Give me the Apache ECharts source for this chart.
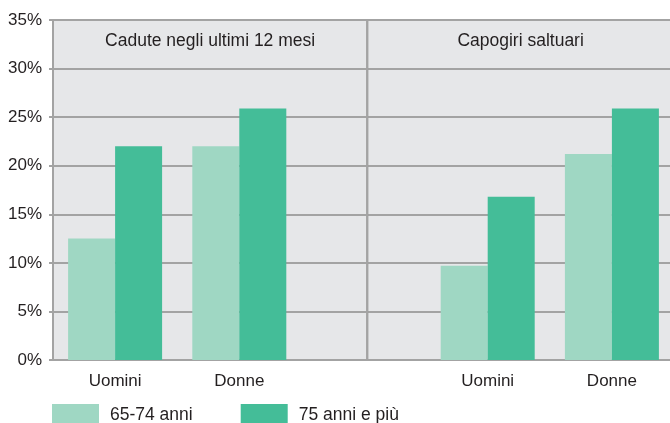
<!DOCTYPE html>
<html>
<head>
<meta charset="utf-8">
<script src="https://cdn.jsdelivr.net/npm/echarts@6/dist/echarts.min.js"></script>
<style>
  html, body { margin: 0; padding: 0; background: #fff; overflow: hidden; }
  /* plot runs slightly past the right edge, as in the original */
  #chart { width: 680px; height: 423px; }
</style>
</head>
<body>
<div id="chart"></div>
<script>
// categories (the empty one is the gap between the two panels)
const categories = ['Uomini', 'Donne', '', 'Uomini', 'Donne']
const seriesNames = ['65-74 anni', '75 anni e più']
const values6574 = [12.5, 22.0, null, 9.7, 21.2]
const values75 = [22.0, 25.9, null, 16.8, 25.9]
const panelTitles = ['Cadute negli ultimi 12 mesi', 'Capogiri saltuari']
// panel split on the hidden 0..5 axis (in category widths)
const panelSplit = 2.53

const font = 'Liberation Sans, Arial, sans-serif'
const textColor = '#231f20'
const lineGray = '#a3a3a3'

const chart = echarts.init(document.getElementById('chart'))

const option = {
	animation: false,
	grid: {
		left: 53, top: 20, width: 621, height: 340,
		show: true, backgroundColor: '#e6e7e9', borderWidth: 0
	},
	legend: {
		data: seriesNames,
		left: 52, top: 404, padding: 0,
		itemWidth: 47, itemHeight: 22, itemGap: 48,
		icon: 'rect',
		textStyle: { fontFamily: font, fontSize: 17.5, color: textColor, padding: [0, 0, 0, 6] }
	},
	xAxis: [
		{
			type: 'category',
			data: categories,
			axisLine: { lineStyle: { color: lineGray, width: 2 } },
			axisTick: { show: false },
			axisLabel: { fontFamily: font, fontSize: 17, color: textColor, margin: 13 }
		},
		{ type: 'value', min: 0, max: 5, show: false }
	],
	yAxis: {
		type: 'value',
		min: 0, max: 35, interval: 5,
		axisLine: { show: true, lineStyle: { color: lineGray, width: 2 } },
		axisTick: { show: true, length: 4, lineStyle: { color: lineGray, width: 2 } },
		axisLabel: { fontFamily: font, fontSize: 17, color: textColor, margin: 11, formatter: '{value}%' },
		splitLine: { lineStyle: { color: lineGray, width: 2 } }
	},
	series: [
		{
			name: seriesNames[0], type: 'bar', data: values6574,
			barWidth: 47, barGap: '0%',
			itemStyle: { color: '#9fd7c3' }
		},
		{
			name: seriesNames[1], type: 'bar', data: values75,
			barWidth: 47, barGap: '0%',
			itemStyle: { color: '#44bd98' }
		},
		{
			type: 'line', xAxisIndex: 1, data: [[0, 0]],
			symbol: 'none', silent: true,
			markArea: {
				silent: true,
				itemStyle: { color: 'rgba(0,0,0,0)', borderColor: lineGray, borderWidth: 2 },
				label: {
					position: 'insideTop', distance: 13,
					fontFamily: font, fontSize: 17.5, color: textColor
				},
				data: [
					[{ name: panelTitles[0], xAxis: 0 }, { xAxis: panelSplit }],
					[{ name: panelTitles[1], xAxis: panelSplit }, { xAxis: 5 }]
				]
			}
		}
	]
}
chart.setOption(option)
</script>
</body>
</html>
